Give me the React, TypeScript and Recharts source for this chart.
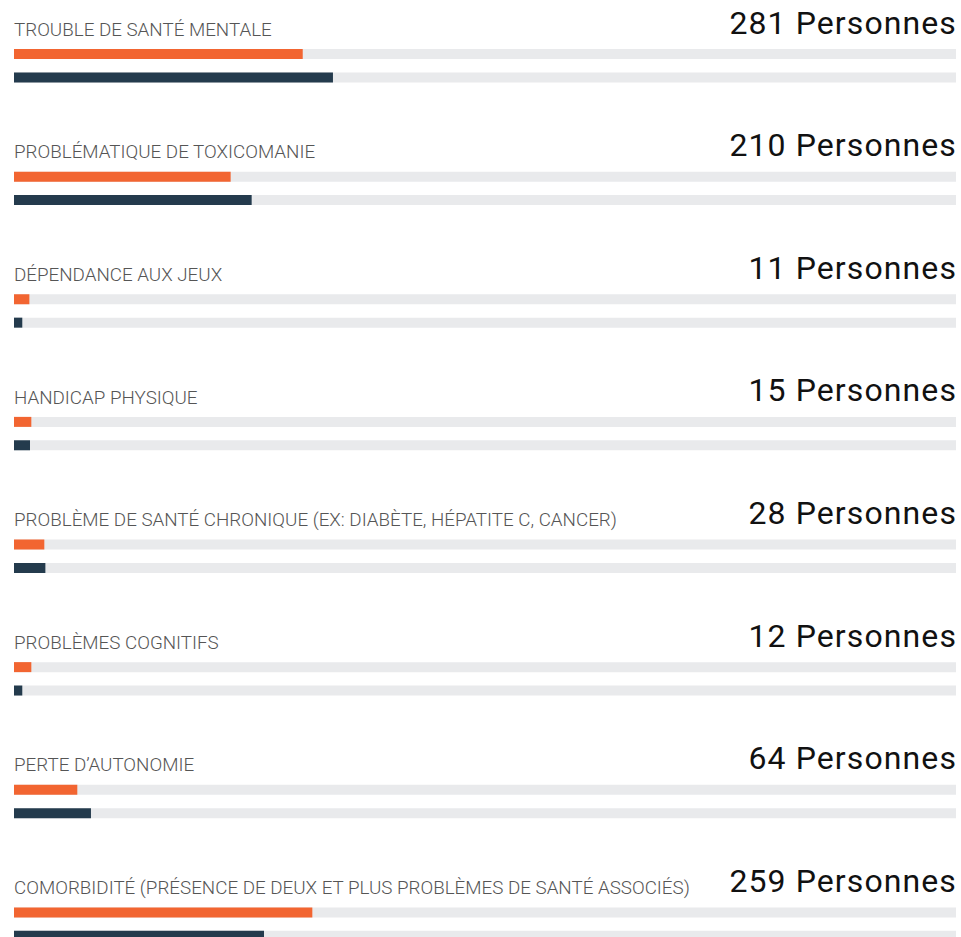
import React from "react";
import { BarChart, Bar, XAxis, YAxis, LabelList } from "recharts";

const categories: string[] = [
  "TROUBLE DE SANTÉ MENTALE",
  "PROBLÉMATIQUE DE TOXICOMANIE",
  "DÉPENDANCE AUX JEUX",
  "HANDICAP PHYSIQUE",
  "PROBLÈME DE SANTÉ CHRONIQUE (EX: DIABÈTE, HÉPATITE C, CANCER)",
  "PROBLÈMES COGNITIFS",
  "PERTE D’AUTONOMIE",
  "COMORBIDITÉ (PRÉSENCE DE DEUX ET PLUS PROBLÈMES DE SANTÉ ASSOCIÉS)",
];

const personnes: number[] = [281, 210, 11, 15, 28, 12, 64, 259];

const serieOrange: number[] = [30.65, 23.0, 1.63, 1.84, 3.22, 1.84, 6.72, 31.67];
const serieNavy: number[] = [33.86, 25.23, 0.88, 1.7, 3.33, 0.88, 8.17, 26.54];

const data = categories.map((c, i) => ({
  category: c,
  count: personnes[i],
  orange: serieOrange[i],
  navy: serieNavy[i],
}));

const WIDTH = 961;
const HEIGHT = 986;
const MARGIN = { top: 4, right: 5, bottom: 1, left: 14 };

const RowLabel = (props: any) => {
  const { x, y, index } = props;
  const i = typeof index === "number" ? index : 0;
  const top = Number(y);
  return (
    <g>
      <text
        x={Number(x)}
        y={top - 13.3}
        textAnchor="start"
        fontFamily="Roboto"
        fontWeight={300}
        fontSize={18.8}
        fill="#555555"
      >
        {categories[i]}
      </text>
      <text
        x={WIDTH - MARGIN.right + 1}
        y={top - 15.5}
        textAnchor="end"
        fontFamily="Roboto"
        fontWeight={400}
        fontSize={32}
        letterSpacing={1.1}
        fill="#111111"
      >
        {`${personnes[i]} Personnes`}
      </text>
    </g>
  );
};

export default function App() {
  return (
    <div
      style={{
        position: "absolute",
        left: 0,
        top: 0,
        width: WIDTH,
        height: 937,
        overflow: "hidden",
        background: "#ffffff",
      }}
    >
      <BarChart
        width={WIDTH}
        height={HEIGHT}
        data={data}
        layout="vertical"
        margin={MARGIN}
        barSize={10}
        barGap={13.4}
      >
        <XAxis type="number" domain={[0, 100]} hide />
        <YAxis type="category" dataKey="category" hide />
        <Bar
          dataKey="orange"
          fill="#F26531"
          background={{ fill: "#E9EAEC" }}
          isAnimationActive={false}
        >
          <LabelList dataKey="category" content={RowLabel} />
        </Bar>
        <Bar
          dataKey="navy"
          fill="#243B4D"
          background={{ fill: "#E9EAEC" }}
          isAnimationActive={false}
        />
      </BarChart>
    </div>
  );
}
